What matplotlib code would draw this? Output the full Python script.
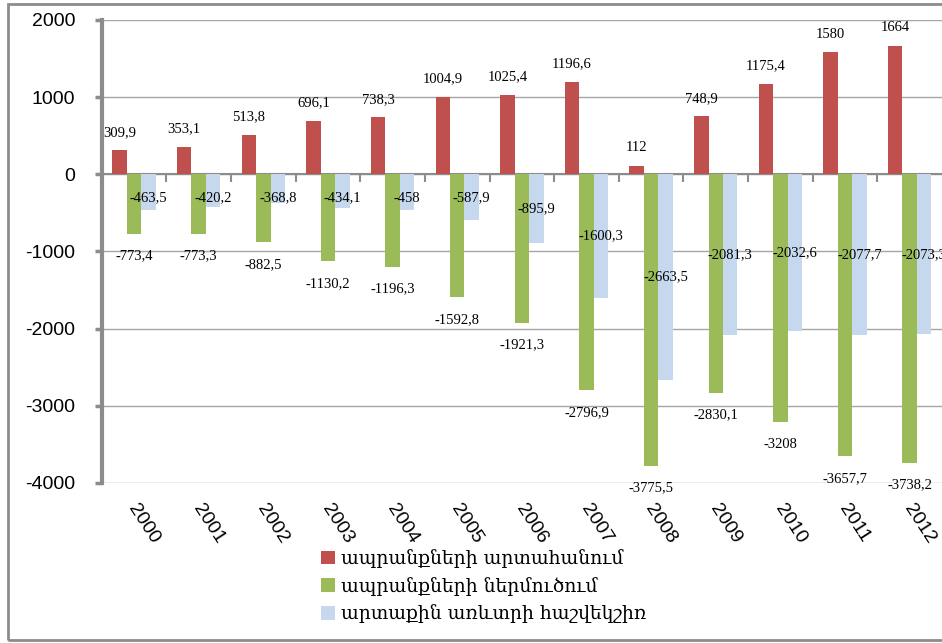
import numpy as np
import matplotlib
matplotlib.use('Agg')
import matplotlib.pyplot as plt
import matplotlib.transforms as mtransforms
from matplotlib.patches import Rectangle

plt.rcParams['axes.unicode_minus'] = False

# Տվյալներ (մլն ԱՄՆ դոլար)
years = ['2000', '2001', '2002', '2003', '2004', '2005', '2006',
         '2007', '2008', '2009', '2010', '2011', '2012']
export = [309.9, 353.1, 513.8, 696.1, 738.3, 1004.9, 1025.4,
          1196.6, 112, 748.9, 1175.4, 1580, 1664]
imports = [-773.4, -773.3, -882.5, -1130.2, -1196.3, -1592.8, -1921.3,
           -2796.9, -3775.5, -2830.1, -3208, -3657.7, -3738.2]
balance = [-463.5, -420.2, -368.8, -434.1, -458, -587.9, -895.9,
           -1600.3, -2663.5, -2081.3, -2032.6, -2077.7, -2073.3]
labels = ['ապրանքների արտահանում', 'ապրանքների ներմուծում',
          'արտաքին առևտրի հաշվեկշիռ']

red, green, blue = '#C0504D', '#9BBB59', '#C6D8EE'
grey = '#8C8C8C'


def fmt(v):
    return f'{v:g}'.replace('.', ',')


fig = plt.figure(figsize=(9.42, 6.43), dpi=100)
ax = fig.add_axes([0.108, 0.249, 0.892, 0.720])

x = np.arange(len(years))
w = 0.224
b1 = ax.bar(x - w, export, w, color=red, label=labels[0], zorder=2)
b2 = ax.bar(x, imports, w, color=green, label=labels[1], zorder=2)
b3 = ax.bar(x + w, balance, w, color=blue, label=labels[2], zorder=2)

lab_font = dict(family='Liberation Serif', size=10.5, color='black')
for xi, v in zip(x - w, export):
    ax.annotate(fmt(v), (xi, v), xytext=(0, 13), textcoords='offset points',
                ha='center', va='center', zorder=4, **lab_font)
for xi, v in zip(x, imports):
    ax.annotate(fmt(v), (xi, v), xytext=(0, -16), textcoords='offset points',
                ha='center', va='center', zorder=4, **lab_font)
for xi, v in zip(x + w, balance):
    ax.text(xi, min(v / 2, -310), fmt(v), ha='center', va='center',
            zorder=4, **lab_font)

ax.set_xlim(-0.5, 12.5)
ax.set_ylim(-4000, 2000)
ax.set_yticks(np.arange(-4000, 2001, 1000))
ax.yaxis.grid(True, color='#A6A6A6', lw=1, zorder=0)
ax.set_axisbelow(True)
ax.axhline(0, color=grey, lw=1.5, zorder=1)

for s in ['top', 'right', 'bottom']:
    ax.spines[s].set_visible(False)
ax.spines['left'].set_color(grey)
ax.spines['left'].set_linewidth(3)
ax.tick_params(axis='y', direction='out', length=5, width=2.5, color=grey,
               pad=14, labelsize=14)
for t in ax.get_yticklabels():
    t.set_fontfamily('Liberation Sans')

ax.set_xticks(x)
ax.set_xticklabels(years, rotation=-57, ha='left', va='top',
                   rotation_mode='anchor', fontsize=14, family='Liberation Sans')
ax.tick_params(axis='x', length=0, pad=13)
shift = mtransforms.ScaledTranslation(5 / 100, 0, fig.dpi_scale_trans)
for t in ax.get_xticklabels():
    t.set_transform(t.get_transform() + shift)

# риски между группами на нулевой линии
zero = ax.secondary_xaxis(4000 / 6000)
for s in zero.spines.values():
    s.set_visible(False)
zero.xaxis.set_ticks_position('bottom')
zero.set_xticks(x[1:] - 0.5, labels=[])
zero.tick_params(direction='out', length=6, width=1.5, color=grey)

fig.legend(handles=[b1, b2, b3], loc='upper left',
           bbox_to_anchor=(0.341, 0.146), frameon=False,
           prop=dict(family='DejaVu Serif', size=13.5),
           handlelength=0.75, handleheight=0.75, handletextpad=0.3,
           labelspacing=0.47, borderpad=0, borderaxespad=0)

fig.patches.append(Rectangle((0.0085, 0.0047), 1.2, 0.989,
                             transform=fig.transFigure, fill=False,
                             edgecolor=grey, lw=2))

fig.savefig('out.png', dpi=100)
